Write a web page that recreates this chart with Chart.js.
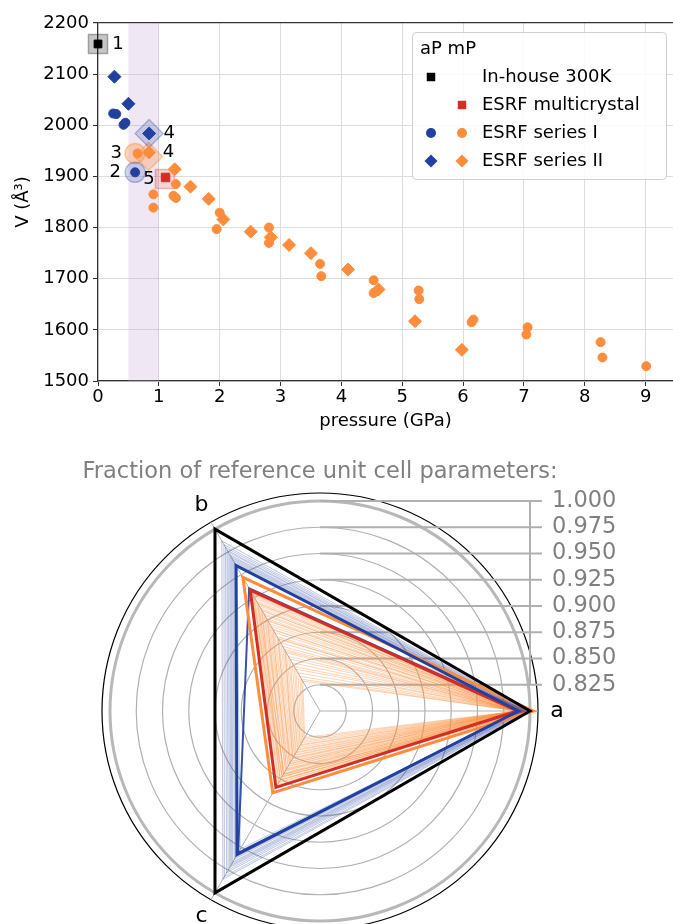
<!DOCTYPE html>
<html>
<head>
<meta charset="utf-8">
<script src="https://cdn.jsdelivr.net/npm/chart.js@4.4.1/dist/chart.umd.min.js"></script>
<style>
  html, body { margin: 0; padding: 0; background: #fff; overflow: hidden; }
  body { width: 673px; height: 924px; position: relative; }
  .wrap { position: absolute; left: 0; width: 673px; }
</style>
</head>
<body>
<div class="wrap" style="top:0;height:440px"><canvas id="pv"></canvas></div>
<div class="wrap" style="top:450px;height:500px"><canvas id="radar"></canvas></div>
<script>
// ---- pressure / volume data (GPa, A^3) ----
const inHouse = [[0, 2159]];
const multicrystal = [[1.11, 1898]];
const aPseries1 = [[0.25, 2023], [0.30, 2022], [0.42, 2001], [0.45, 2005], [0.61, 1908]];
const aPseries2 = [[0.27, 2095], [0.50, 2042], [0.84, 1984]];
const mPseries1 = [[0.65, 1945], [0.91, 1865], [0.91, 1839], [1.28, 1885], [1.24, 1862], [1.28, 1858],
  [2.00, 1829], [1.95, 1797], [2.81, 1800], [2.81, 1770], [3.65, 1729], [3.67, 1705],
  [4.53, 1697], [4.53, 1672], [5.27, 1677], [5.28, 1660], [6.14, 1615], [6.17, 1620],
  [7.06, 1605], [7.04, 1591], [8.26, 1576], [8.29, 1546], [9.01, 1529]];
const mPseries2 = [[0.84, 1947], [1.26, 1914], [1.52, 1880], [1.82, 1856], [2.06, 1816], [2.51, 1792],
  [2.84, 1781], [3.14, 1766], [3.50, 1750], [4.11, 1718], [4.61, 1679], [5.21, 1617], [5.98, 1561]];
// highlighted reference points, numbered 1..5
const hlInHouse = [[0, 2159]];
const hlAP1 = [[0.61, 1908]];
const hlMP1 = [[0.61, 1945]];
const hlAP2 = [[0.84, 1984]];
const hlMP2 = [[0.83, 1939]];
const hlMulti = [[1.10, 1895]];
const hlText = ['1', '2', '3', '4', '4', '5'];

const xTicks = [0, 1, 2, 3, 4, 5, 6, 7, 8, 9];
const yTicks = [1500, 1600, 1700, 1800, 1900, 2000, 2100, 2200];
const legendTitle = 'aP mP';
const legendText = ['In-house 300K', 'ESRF multicrystal', 'ESRF series I', 'ESRF series II'];

// ---- fraction of reference cell parameters [a, b, c] ----
const radarAxes = ['a', 'b', 'c'];
const ringTicks = [0.8, 0.825, 0.85, 0.875, 0.9, 0.925, 0.95, 0.975, 1.0];
const refCell = [1.0, 1.0, 1.0];
const aPbold = [0.989, 0.960, 0.958];
const aPmid = [0.990, 0.935, 0.956];
const mPbold = [1.003, 0.947, 0.890];
const multiBold = [0.988, 0.933, 0.884];
const aPthin = [
  [0.998, 0.987, 0.985], [0.997, 0.983, 0.982], [0.996, 0.980, 0.978], [0.995, 0.977, 0.975],
  [0.995, 0.975, 0.972], [0.994, 0.972, 0.970], [0.993, 0.970, 0.968], [0.993, 0.968, 0.966],
  [0.992, 0.966, 0.963], [0.991, 0.964, 0.961], [0.990, 0.962, 0.955], [0.990, 0.958, 0.952]
];
const mPthin = [
  [0.999, 0.931, 0.881], [0.998, 0.929, 0.879], [0.998, 0.926, 0.878], [0.997, 0.924, 0.876],
  [0.999, 0.921, 0.875], [0.996, 0.919, 0.873], [0.997, 0.916, 0.872], [0.995, 0.913, 0.870],
  [0.996, 0.910, 0.869], [0.994, 0.907, 0.866], [0.995, 0.905, 0.865], [0.993, 0.902, 0.863],
  [0.994, 0.899, 0.861], [0.992, 0.896, 0.860], [0.993, 0.893, 0.858], [0.991, 0.889, 0.856],
  [0.992, 0.886, 0.855], [0.990, 0.882, 0.853], [0.991, 0.879, 0.851], [0.990, 0.875, 0.849],
  [0.989, 0.871, 0.848], [0.991, 0.868, 0.846], [0.989, 0.864, 0.845], [0.990, 0.860, 0.843],
  [0.988, 0.857, 0.842], [0.989, 0.853, 0.840], [0.988, 0.849, 0.838], [0.990, 0.846, 0.837],
  [0.988, 0.842, 0.835], [0.989, 0.838, 0.833], [0.987, 0.835, 0.831], [0.989, 0.833, 0.829],
  [0.996, 0.928, 0.872], [0.994, 0.918, 0.868], [0.997, 0.930, 0.884], [0.993, 0.911, 0.876],
  [0.992, 0.900, 0.870], [0.990, 0.890, 0.864], [0.986, 0.880, 0.858], [0.987, 0.866, 0.852]
];

const BLUE = '#2140a0', ORANGE = '#fd8d3c', RED = '#d42d27', BLACK = '#000000';

Chart.defaults.font.family = "'DejaVu Sans', sans-serif";
Chart.defaults.color = '#000';

const pts = arr => arr.map(p => ({ x: p[0], y: p[1] }));

function marker(ctx, style, x, y, r) {
  ctx.beginPath();
  if (style === 'rect') {
    const s = r * Math.SQRT1_2;
    ctx.rect(x - s, y - s, 2 * s, 2 * s);
  } else if (style === 'rectRot') {
    ctx.moveTo(x - r, y); ctx.lineTo(x, y - r); ctx.lineTo(x + r, y); ctx.lineTo(x, y + r); ctx.closePath();
  } else {
    ctx.arc(x, y, r, 0, Math.PI * 2);
  }
  ctx.fill();
}

const small = (data, style, color, r, order) => ({
  data: pts(data), pointStyle: style, pointRadius: r, backgroundColor: color,
  borderColor: color, borderWidth: 1, clip: false, order: order
});
const halo = (data, style, fill, edge, r) => ({
  data: pts(data), pointStyle: style, pointRadius: r, backgroundColor: fill,
  borderColor: edge, borderWidth: 1.5, clip: false, order: 10
});

const pvPlugin = {
  id: 'pvExtras',
  beforeDatasetsDraw(chart) {
    const { ctx, chartArea, scales } = chart;
    const x0 = scales.x.getPixelForValue(0.5), x1 = scales.x.getPixelForValue(1.0);
    ctx.save();
    ctx.fillStyle = 'rgba(196, 160, 210, 0.25)';
    ctx.fillRect(x0, chartArea.top, x1 - x0, chartArea.bottom - chartArea.top);
    ctx.restore();
  },
  afterDatasetsDraw(chart) {
    const ctx = chart.ctx;
    const offs = [[20, 0], [-20, 0], [-19, 0], [20, 0], [20, -4], [-16, 0]];
    ctx.save();
    ctx.font = "18px 'DejaVu Sans'";
    ctx.fillStyle = '#000';
    ctx.textAlign = 'center';
    ctx.textBaseline = 'middle';
    hlText.forEach((t, i) => {
      const el = chart.getDatasetMeta(6 + i).data[0];
      ctx.fillText(t, el.x + offs[i][0], el.y + offs[i][1]);
    });
    ctx.restore();
  },
  afterDraw(chart) {
    const ctx = chart.ctx;
    ctx.save();
    ctx.fillStyle = 'rgba(255,255,255,0.85)';
    ctx.strokeStyle = '#cfcfcf';
    ctx.lineWidth = 1;
    ctx.beginPath();
    ctx.roundRect(412.5, 32.5, 254, 147, 4);
    ctx.fill(); ctx.stroke();
    ctx.font = "18px 'DejaVu Sans'";
    ctx.fillStyle = '#000';
    ctx.textBaseline = 'middle';
    ctx.fillText(legendTitle, 420, 49);
    const rows = [77, 105, 133, 161];
    legendText.forEach((t, i) => { ctx.fillStyle = '#000'; ctx.fillText(t, 482, rows[i]); });
    ctx.fillStyle = BLACK; marker(ctx, 'rect', 431, rows[0], 6);
    ctx.fillStyle = RED; marker(ctx, 'rect', 462, rows[1], 6);
    ctx.fillStyle = BLUE; marker(ctx, 'circle', 431, rows[2], 5);
    ctx.fillStyle = ORANGE; marker(ctx, 'circle', 462, rows[2], 5);
    ctx.fillStyle = BLUE; marker(ctx, 'rectRot', 431, rows[3], 6.5);
    ctx.fillStyle = ORANGE; marker(ctx, 'rectRot', 462, rows[3], 6.5);
    ctx.restore();
  }
};

new Chart(document.getElementById('pv'), {
  type: 'scatter',
  data: {
    datasets: [
      small(inHouse, 'rect', BLACK, 5.5, 1),
      small(multicrystal, 'rect', RED, 6, 1),
      small(aPseries1, 'circle', BLUE, 4.5, 1),
      small(aPseries2, 'rectRot', BLUE, 6.5, 1),
      small(mPseries1, 'circle', ORANGE, 4.5, 1),
      small(mPseries2, 'rectRot', ORANGE, 6.5, 1),
      halo(hlInHouse, 'rect', 'rgba(0,0,0,0.22)', 'rgba(0,0,0,0.3)', 13.5),
      halo(hlAP1, 'circle', 'rgba(33,64,160,0.2)', 'rgba(33,64,160,0.3)', 10),
      halo(hlMP1, 'circle', 'rgba(253,141,60,0.35)', 'rgba(253,141,60,0.45)', 10),
      halo(hlAP2, 'rectRot', 'rgba(33,64,160,0.2)', 'rgba(33,64,160,0.3)', 14),
      halo(hlMP2, 'rectRot', 'rgba(253,141,60,0.3)', 'rgba(253,141,60,0.45)', 14),
      halo(hlMulti, 'rect', 'rgba(212,45,39,0.2)', 'rgba(212,45,39,0.3)', 13.5)
    ]
  },
  options: {
    responsive: true,
    maintainAspectRatio: false,
    animation: false,
    events: [],
    layout: { autoPadding: false, padding: { top: 23, left: 0, right: 0, bottom: 0 } },
    plugins: { legend: { display: false }, tooltip: { enabled: false } },
    scales: {
      x: {
        type: 'linear', min: 0, max: 9.45,
        afterBuildTicks: s => { s.ticks = xTicks.map(v => ({ value: v })); },
        ticks: { font: { size: 18 }, color: '#000', padding: 1, callback: v => String(v) },
        grid: { color: '#dddddd', tickColor: '#333', tickLength: 5, lineWidth: 1 },
        border: { color: '#333', width: 1.2 },
        title: { display: true, text: 'pressure (GPa)', font: { size: 18 }, color: '#000', padding: { top: 0, bottom: 8 } },
        afterFit: s => { s.height = 59; }
      },
      y: {
        type: 'linear', min: 1500, max: 2200,
        afterBuildTicks: s => { s.ticks = yTicks.map(v => ({ value: v })); },
        ticks: { font: { size: 18 }, color: '#000', padding: 4, callback: v => String(v) },
        grid: {
          color: c => (c.tick && c.tick.value === 2200 ? '#333' : '#dddddd'),
          lineWidth: c => (c.tick && c.tick.value === 2200 ? 1.2 : 1),
          tickColor: '#333', tickLength: 5
        },
        border: { color: '#333', width: 1.2 },
        title: { display: true, text: 'V (Å³)', font: { size: 18 }, color: '#000', padding: { top: 13, bottom: 0 } },
        afterFit: s => { s.width = 98; }
      }
    }
  },
  plugins: [pvPlugin]
});

// ---- radar of cell-parameter fractions ----
const rMax = 0.8 + 0.2 * 218 / 210;   // outer frame just beyond 1.0
const toRing = t => [t[0], t[2], t[1]]; // clockwise from east: a, c, b

const line = (t, color, width, order) => ({
  data: toRing(t), borderColor: color, borderWidth: width, pointRadius: 0,
  fill: false, tension: 0, order: order
});

const radarSets = [line(refCell, BLACK, 3, 0),
  line(aPbold, BLUE, 3, 1), line(mPbold, ORANGE, 3, 1), line(multiBold, RED, 3, 1),
  line(aPmid, 'rgba(33,64,160,0.9)', 2, 2)];
aPthin.forEach(t => radarSets.push(line(t, 'rgba(33,64,160,0.3)', 1, 3)));
mPthin.forEach(t => radarSets.push(line(t, 'rgba(253,141,60,0.38)', 1, 4)));

const radarPlugin = {
  id: 'radarExtras',
  beforeDatasetsDraw(chart) {
    const ctx = chart.ctx, r = chart.scales.r;
    const xr = r.xCenter + r.getDistanceFromCenterForValue(1.0);
    ctx.save();
    ctx.strokeStyle = '#b0b0b0';
    ctx.lineWidth = 2;
    ctx.beginPath();
    ctx.moveTo(xr, r.yCenter - r.getDistanceFromCenterForValue(1.0));
    ctx.lineTo(xr, r.yCenter - r.getDistanceFromCenterForValue(0.825));
    ringTicks.slice(1).forEach(v => {
      const y = r.yCenter - r.getDistanceFromCenterForValue(v);
      ctx.moveTo(r.xCenter, y);
      ctx.lineTo(xr + 12, y);
    });
    ctx.stroke();
    ctx.restore();
  },
  afterDraw(chart) {
    const ctx = chart.ctx, r = chart.scales.r;
    const xr = r.xCenter + r.getDistanceFromCenterForValue(1.0);
    ctx.save();
    ctx.fillStyle = '#808080';
    ctx.font = "22.5px 'DejaVu Sans'";
    ctx.textAlign = 'center';
    ctx.textBaseline = 'middle';
    ctx.fillText('Fraction of reference unit cell parameters:', r.xCenter, 22);
    ctx.textAlign = 'left';
    ringTicks.slice(1).forEach(v => {
      ctx.fillText(v.toFixed(3), xr + 22, r.yCenter - r.getDistanceFromCenterForValue(v));
    });
    ctx.fillStyle = '#000';
    ctx.textAlign = 'center';
    ctx.font = "22px 'DejaVu Sans'";
    chart.data.labels.forEach((lab, i) => {
      const p = r.getPointPosition(i, r.drawingArea + 19);
      ctx.fillText(lab, p.x, p.y);
    });
    ctx.restore();
  }
};

new Chart(document.getElementById('radar'), {
  type: 'radar',
  data: { labels: toRing(radarAxes), datasets: radarSets },
  options: {
    responsive: true,
    maintainAspectRatio: false,
    animation: false,
    events: [],
    layout: { autoPadding: false, padding: { left: 102, right: 135, top: 43, bottom: 21 } },
    plugins: { legend: { display: false }, tooltip: { enabled: false } },
    scales: {
      r: {
        min: 0.8, max: rMax, startAngle: 90,
        afterBuildTicks: s => { s.ticks = ringTicks.concat([rMax]).map(v => ({ value: v })); },
        ticks: { display: false },
        pointLabels: { display: false },
        grid: {
          circular: true,
          color: c => (c.tick.value > 1.001 ? '#000' : (c.tick.value > 0.999 ? '#b8b8b8' : '#b0b0b0')),
          lineWidth: c => (c.tick.value > 1.001 ? 1.2 : (c.tick.value > 0.999 ? 3 : 1.2))
        },
        angleLines: { color: '#b0b0b0', lineWidth: 1 }
      }
    }
  },
  plugins: [radarPlugin]
});
</script>
</body>
</html>
